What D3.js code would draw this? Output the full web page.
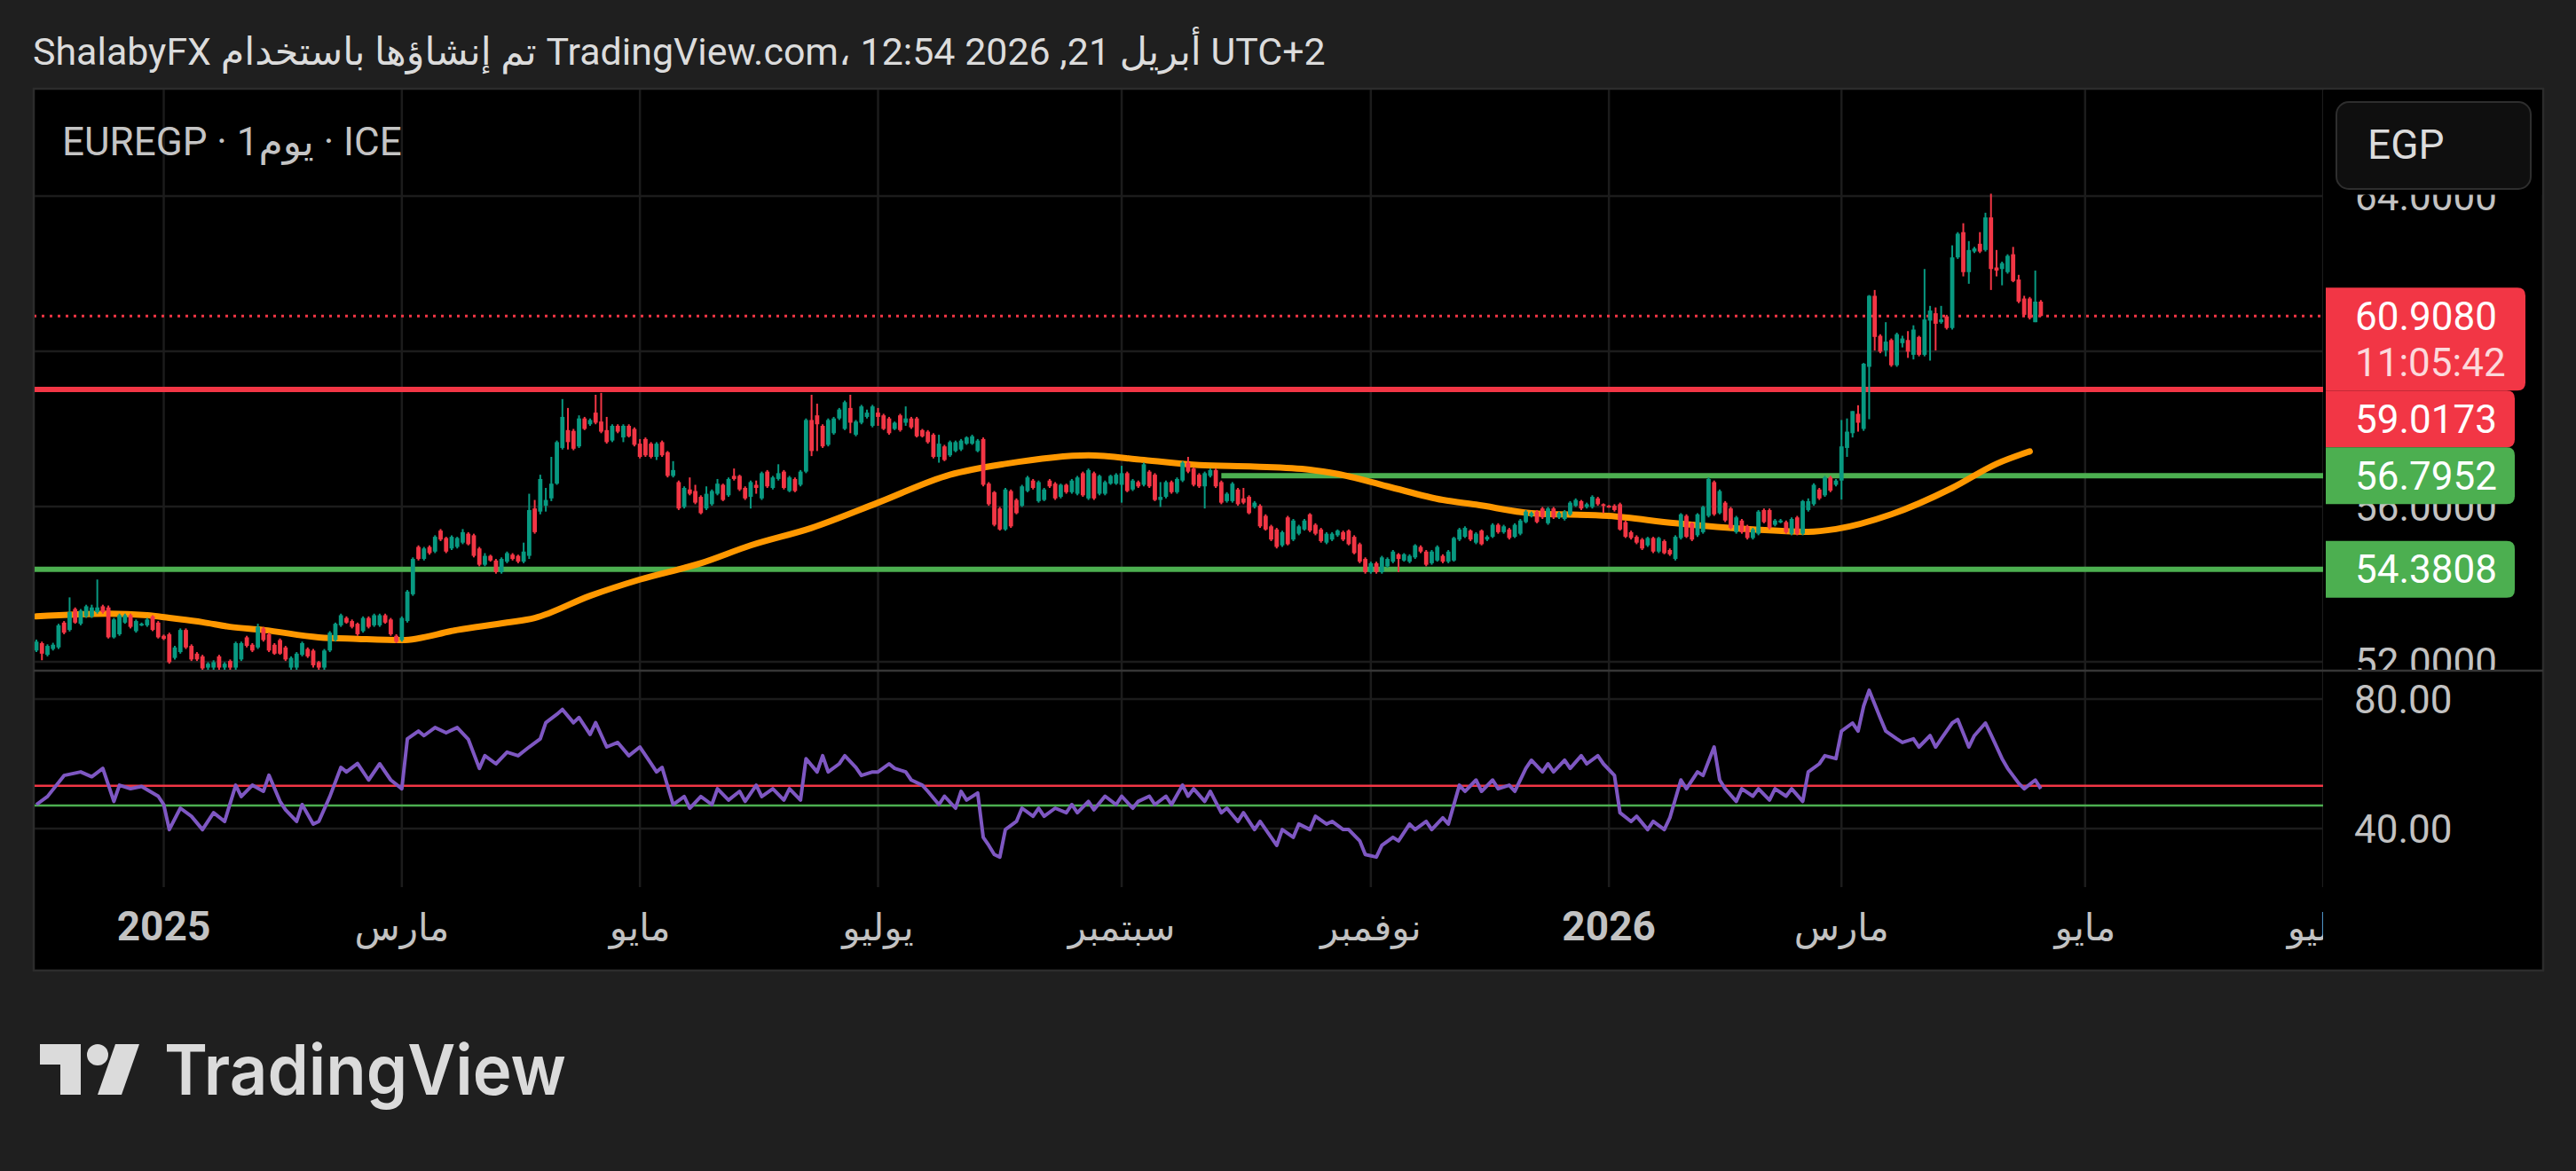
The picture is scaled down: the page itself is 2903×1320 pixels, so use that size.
<!DOCTYPE html>
<html><head><meta charset="utf-8">
<script src="https://cdn.jsdelivr.net/npm/d3@7"></script>
<style>html,body{margin:0;padding:0;background:#1f1f1f;overflow:hidden}svg{display:block}</style>
</head><body>
<svg id="c" width="2903" height="1320"></svg>
<script>
// ---------------- DATA ----------------
const open=[
52.29,52.48,52.18,52.33,52.37,53.01,52.82,53.36,52.98,53.17,
53.17,53.28,53.43,53.40,52.63,52.71,53.01,53.20,52.79,52.94,
52.94,53.17,53.01,52.67,52.71,52.10,52.25,52.82,52.41,52.21,
52.14,51.85,51.85,52.14,51.85,52.02,51.85,52.06,52.63,52.44,
52.37,52.86,52.71,52.44,52.56,52.37,51.85,51.85,52.18,52.33,
52.29,51.99,51.85,52.29,52.56,52.94,53.13,53.05,52.98,52.79,
53.13,52.94,52.94,53.20,53.09,52.67,52.56,53.05,53.74,54.96,
54.65,54.96,54.84,55.38,55.19,54.92,54.96,55.07,55.30,55.26,
54.92,54.50,54.73,54.61,54.31,54.58,54.76,54.73,54.58,54.73,
55.95,55.87,56.02,56.21,56.59,57.51,57.97,57.95,57.55,58.27,
58.12,58.42,58.19,57.97,57.70,58.08,57.78,58.08,58.00,57.62,
57.74,57.62,57.28,57.66,57.40,56.79,56.63,55.99,56.44,56.40,
56.25,55.95,56.06,56.33,56.56,56.29,56.79,56.79,56.48,56.25,
56.56,56.21,56.90,56.48,56.71,56.90,56.40,56.71,56.56,56.90,
58.23,58.35,58.08,57.59,57.89,58.27,58.00,58.54,57.85,58.16,
58.31,58.08,58.42,58.35,58.27,58.00,58.35,58.16,58.27,58.27,
57.97,57.93,57.85,57.28,57.55,57.32,57.43,57.47,57.62,57.62,
57.43,57.74,56.59,56.37,55.95,55.41,56.40,56.17,56.02,56.40,
56.67,56.14,56.17,56.67,56.59,56.25,56.56,56.37,56.33,56.86,
56.21,56.86,56.33,56.33,56.59,56.59,56.56,56.86,56.44,56.63,
56.56,56.90,56.82,56.17,56.25,56.63,56.37,56.67,57.13,56.98,
56.82,56.52,56.79,56.94,56.63,56.14,56.14,56.44,56.21,56.25,
55.99,56.02,55.76,55.49,55.41,55.00,55.72,55.15,55.30,55.41,
55.80,55.53,55.41,55.07,55.15,55.26,55.34,55.38,55.22,55.03,
54.65,54.31,54.54,54.31,54.46,54.58,54.77,54.61,54.58,54.69,
54.96,54.84,54.54,54.61,54.73,54.58,54.61,55.15,55.22,55.38,
55.07,55.38,55.15,55.22,55.53,55.34,55.41,55.22,55.30,55.60,
55.76,55.87,55.95,55.57,55.95,55.72,55.68,55.80,56.02,56.14,
55.99,55.99,56.21,56.06,56.02,56.02,56.06,55.60,55.34,55.22,
55.15,55.00,55.19,54.84,55.11,54.88,54.65,55.19,55.76,55.57,
55.26,55.34,55.76,56.63,55.83,56.10,55.95,55.34,55.64,55.49,
55.19,55.30,55.91,55.91,55.53,55.60,55.60,55.30,55.72,55.30,
55.91,56.06,56.44,56.29,56.75,56.56,56.67,57.51,57.89,58.39,
58.00,59.60,61.43,60.40,60.02,60.29,59.64,60.21,60.29,59.91,
60.37,59.91,60.79,60.98,60.75,60.90,60.60,62.42,63.07,62.04,
62.57,62.77,62.61,63.45,62.16,62.12,62.04,62.50,61.85,61.36,
61.36,60.75,61.28];
const high=[
52.57,52.52,52.45,52.49,52.98,53.05,53.66,53.40,53.36,53.47,
53.47,54.12,53.47,53.45,53.13,53.24,53.24,53.24,53.09,53.01,
53.13,53.20,53.05,52.70,52.75,52.41,52.86,52.86,52.45,52.25,
52.18,51.99,52.04,52.18,51.99,52.06,52.52,52.52,52.67,52.48,
52.98,52.90,52.75,52.48,52.60,52.41,52.14,52.25,52.52,52.37,
52.33,52.02,52.33,52.79,53.01,53.24,53.17,53.09,53.01,53.17,
53.17,53.24,53.24,53.24,53.13,52.71,53.17,53.85,54.69,55.00,
54.96,55.00,55.26,55.42,55.22,55.26,55.22,55.42,55.34,55.30,
54.96,54.80,54.76,54.65,54.69,54.84,54.80,54.76,55.07,56.33,
56.17,56.82,56.48,57.28,57.70,58.77,58.54,58.00,58.35,58.31,
58.27,58.88,58.93,58.31,58.12,58.12,58.12,58.12,58.04,57.74,
57.78,57.66,57.66,57.70,57.43,57.17,56.67,56.52,56.75,56.56,
56.29,56.52,56.44,56.71,56.59,56.75,56.98,56.82,56.52,56.67,
56.67,56.90,56.94,56.79,57.09,56.94,56.79,56.75,56.94,58.27,
58.88,58.65,58.12,58.27,58.31,58.54,58.73,58.88,58.23,58.62,
58.50,58.62,58.54,58.39,58.31,58.19,58.39,58.58,58.31,58.31,
58.00,57.97,57.89,57.85,57.59,57.70,57.70,57.74,57.81,57.85,
57.74,57.78,56.63,56.40,55.99,56.48,56.44,56.21,56.56,56.79,
56.71,56.67,56.48,56.71,56.63,56.59,56.59,56.71,56.79,56.90,
56.98,56.90,56.82,56.67,56.82,56.86,57.05,56.90,56.71,56.67,
57.13,56.94,56.86,56.63,56.67,56.67,56.75,57.17,57.28,57.01,
56.86,56.90,56.98,56.98,56.67,56.37,56.63,56.48,56.48,56.29,
56.14,56.06,55.80,55.53,55.45,55.38,55.76,55.68,55.53,55.68,
55.83,55.57,55.45,55.34,55.34,55.41,55.38,55.41,55.26,55.07,
54.69,54.58,54.58,54.73,54.69,54.88,54.80,54.80,54.77,55.03,
55.00,54.88,54.88,55.00,54.77,54.88,55.22,55.45,55.49,55.41,
55.34,55.41,55.26,55.57,55.57,55.53,55.45,55.57,55.68,55.91,
55.87,55.91,55.99,55.99,55.99,55.87,55.91,56.14,56.21,56.17,
56.10,56.29,56.25,56.08,56.04,56.06,56.10,55.64,55.38,55.26,
55.19,55.22,55.22,55.22,55.15,54.92,55.26,55.83,55.80,55.60,
55.83,56.02,56.75,56.67,56.44,56.14,55.99,55.76,55.68,55.53,
55.45,55.91,55.95,55.95,55.68,55.68,55.64,55.72,55.76,56.17,
56.21,56.60,56.48,56.79,56.79,56.71,58.23,58.27,58.46,58.61,
59.70,61.45,61.58,60.44,60.75,60.33,60.48,60.40,60.52,60.67,
60.40,62.12,61.17,61.13,61.17,60.94,62.73,63.07,63.30,62.84,
62.69,63.07,63.57,64.06,62.61,62.31,62.50,62.69,61.97,61.43,
61.40,62.08,61.32];
const low=[
52.25,52.04,52.14,52.29,52.33,52.71,52.78,52.98,52.94,53.13,
53.13,53.24,53.24,52.60,52.60,52.67,52.98,52.86,52.75,52.92,
52.90,52.79,52.60,52.56,51.95,52.06,52.21,52.33,52.02,52.02,
51.75,51.78,51.78,51.78,51.78,51.78,51.78,52.02,52.37,52.25,
52.33,52.52,52.25,52.18,52.18,52.02,51.78,51.78,52.14,52.10,
51.85,51.78,51.78,52.25,52.52,52.90,52.98,52.86,52.67,52.75,
52.86,52.90,52.90,52.98,52.67,52.48,52.52,53.01,53.70,54.61,
54.61,54.76,54.80,55.11,54.80,54.88,54.92,55.03,55.00,54.69,
54.46,54.46,54.58,54.27,54.27,54.54,54.61,54.54,54.54,54.65,
55.30,55.80,55.87,56.14,56.56,57.47,57.47,57.45,57.51,57.97,
58.08,58.12,57.89,57.62,57.66,57.89,57.66,57.78,57.55,57.24,
57.28,57.24,57.20,57.28,56.75,56.75,55.91,55.95,56.29,56.06,
55.80,55.91,56.02,56.29,56.14,56.25,56.67,56.40,56.17,55.95,
56.33,56.17,56.48,56.44,56.67,56.44,56.37,56.37,56.52,56.86,
57.30,57.43,57.51,57.55,57.85,58.23,57.97,57.89,57.81,58.12,
58.27,58.04,58.08,57.97,57.85,57.97,57.93,58.08,58.00,57.78,
57.78,57.62,57.24,57.13,57.17,57.28,57.40,57.43,57.59,57.59,
57.40,56.52,56.02,55.49,55.38,55.38,55.45,55.80,55.99,56.37,
56.44,56.10,56.14,56.48,56.17,56.21,56.33,56.33,56.29,56.25,
56.17,56.17,56.29,56.29,56.56,56.56,56.10,56.37,56.40,56.48,
56.52,56.48,56.14,55.99,56.21,56.33,56.33,56.63,56.86,56.52,
56.48,55.95,56.75,56.48,56.06,56.10,56.10,56.02,56.06,55.80,
55.95,55.45,55.38,55.11,54.92,54.96,55.00,55.11,55.26,55.38,
55.34,55.26,55.07,55.03,55.11,55.22,55.11,55.00,54.77,54.54,
54.27,54.27,54.27,54.27,54.42,54.54,54.31,54.58,54.54,54.65,
54.80,54.46,54.50,54.58,54.54,54.54,54.58,55.11,55.19,55.11,
55.03,55.00,55.11,55.19,55.30,55.30,55.15,55.19,55.26,55.57,
55.72,55.57,55.68,55.53,55.68,55.68,55.64,55.76,55.99,55.91,
55.95,55.95,56.02,55.83,55.97,55.87,55.38,55.19,55.15,55.03,
54.88,54.96,54.80,54.80,54.77,54.73,54.61,55.15,55.19,55.11,
55.22,55.30,55.72,55.76,55.80,55.60,55.41,55.30,55.30,55.15,
55.15,55.26,55.57,55.41,55.49,55.57,55.30,55.26,55.26,55.26,
55.87,56.02,56.17,56.25,56.37,56.52,56.18,57.28,57.78,57.93,
57.95,58.25,60.02,59.95,59.87,59.60,59.60,60.10,59.83,59.79,
59.87,59.87,59.76,60.02,60.71,60.56,60.56,62.38,61.93,61.74,
62.53,62.53,62.57,61.58,61.93,61.70,62.00,61.78,61.24,60.90,
60.82,60.75,60.90];
const close=[
52.52,52.21,52.41,52.44,52.94,52.75,53.28,53.01,53.32,53.43,
53.40,53.40,53.28,52.63,53.09,53.20,53.20,52.90,53.05,52.98,
53.09,52.82,52.63,52.59,51.99,52.37,52.82,52.37,52.06,52.06,
51.83,51.95,51.99,51.85,51.95,51.85,52.48,52.48,52.41,52.29,
52.90,52.56,52.29,52.21,52.21,52.06,52.10,52.21,52.48,52.14,
51.91,51.85,52.29,52.75,52.98,53.20,53.01,52.90,52.71,53.13,
52.90,53.20,53.20,53.01,52.71,52.52,53.13,53.81,54.65,54.65,
54.92,54.80,55.22,55.15,54.84,55.22,55.19,55.34,55.03,54.73,
54.50,54.73,54.61,54.31,54.65,54.80,54.65,54.58,54.84,55.91,
55.34,56.71,56.17,56.59,57.66,58.31,57.66,57.49,58.27,58.00,
58.23,58.16,57.93,57.66,58.08,57.93,58.08,57.81,57.59,57.28,
57.32,57.28,57.62,57.32,56.79,56.94,55.95,56.48,56.33,56.10,
55.83,56.33,56.40,56.59,56.17,56.71,56.71,56.44,56.21,56.63,
56.48,56.86,56.52,56.75,56.86,56.48,56.75,56.40,56.90,58.23,
57.43,58.12,57.55,58.23,58.27,58.50,58.69,58.16,58.19,58.58,
58.42,58.58,58.31,58.00,57.89,58.16,57.97,58.27,58.04,57.81,
57.81,57.66,57.28,57.62,57.20,57.66,57.66,57.70,57.78,57.81,
57.70,56.56,56.06,55.53,55.41,56.44,55.49,55.83,56.52,56.75,
56.48,56.63,56.44,56.52,56.21,56.56,56.37,56.67,56.75,56.29,
56.94,56.21,56.79,56.63,56.79,56.82,56.86,56.40,56.67,56.52,
57.09,56.52,56.17,56.25,56.63,56.37,56.71,57.13,56.90,56.56,
56.52,56.86,56.94,56.52,56.10,56.33,56.59,56.06,56.10,55.83,
56.10,55.49,55.41,55.15,54.96,55.34,55.03,55.64,55.49,55.64,
55.38,55.30,55.11,55.30,55.30,55.38,55.15,55.03,54.80,54.58,
54.31,54.54,54.31,54.69,54.65,54.84,54.65,54.77,54.73,55.00,
54.84,54.50,54.84,54.96,54.58,54.84,55.19,55.41,55.45,55.15,
55.30,55.03,55.22,55.53,55.34,55.49,55.19,55.53,55.64,55.87,
55.83,55.60,55.72,55.95,55.72,55.83,55.87,56.10,56.17,55.95,
56.06,56.25,56.06,56.02,55.99,55.91,55.41,55.22,55.19,55.07,
54.92,55.19,54.84,55.19,54.80,54.77,55.22,55.80,55.22,55.15,
55.80,55.99,56.71,55.80,56.40,55.64,55.45,55.72,55.34,55.19,
55.41,55.87,55.60,55.45,55.64,55.64,55.34,55.68,55.30,56.14,
56.14,56.56,56.21,56.75,56.41,56.67,57.55,57.93,58.46,58.16,
59.68,61.43,60.37,59.99,60.25,59.64,60.44,60.33,59.99,60.56,
59.91,60.82,61.05,60.71,60.82,60.60,62.42,63.03,62.04,62.61,
62.65,62.57,63.45,62.12,62.08,62.27,62.46,61.81,61.28,60.94,
60.86,61.28,60.91];

// moving average (orange), sampled at bar positions
const maBar=[0,13,20,24,30,35,41,51,58,66,76,85,90,100,109,120,129,140,152,165,175,190,200,210,220,230,235,244,254,260,270,284,296,310,320,325,335,346,354,360];
const maVal=[53.17,53.24,53.20,53.13,53.02,52.90,52.82,52.63,52.59,52.56,52.82,53.01,53.13,53.70,54.12,54.54,55.00,55.45,56.10,56.82,57.10,57.32,57.20,57.07,57.03,56.95,56.84,56.52,56.17,56.05,55.83,55.76,55.57,55.41,55.35,55.42,55.80,56.48,57.10,57.42];

// RSI (purple), sampled at bar positions
const rsiBar=[0,2,5,8,10,12,14,15,17,19,
22,23,24,26,28,30,32,34,36,37,
39,41,42,44,45,47,48,50,51,53,
55,56,58,60,62,64,66,67,69,70,
72,74,76,78,80,81,83,85,87,89,
91,92,94,95,97,98,100,101,103,105,
107,109,111,112,113,115,117,118,120,122,
123,125,127,128,130,131,133,135,136,138,
139,141,142,143,145,146,148,149,151,152,
154,155,157,158,160,161,163,164,166,167,
168,170,171,172,173,174,175,177,178,180,
181,182,184,186,187,188,190,191,193,195,
196,198,199,201,202,204,205,207,208,209,
211,212,214,215,217,218,220,221,223,224,
225,227,228,230,231,233,234,236,237,239,
240,242,243,245,246,248,249,251,252,254,
255,257,258,260,261,263,264,266,267,269,
270,272,273,274,276,277,279,280,282,283,
285,286,288,289,291,292,294,295,297,298,
300,301,303,304,305,307,308,310,311,313,
314,316,317,319,320,322,323,325,326,328,
329,330,331,333,334,336,337,339,340,342,
343,344,346,347,349,350,352,353,355,356,
358,359,361,362];
const rsiVal=[47.4,49.9,56.4,57.5,56.0,58.6,48.4,53.4,52.3,53.0,
50.0,47.4,39.7,46.3,43.8,39.7,44.9,42.2,53.4,49.9,
53.4,51.5,56.5,48.4,45.8,42.2,47.4,41.4,42.2,49.9,
58.9,57.5,60.1,55.0,60.0,55.0,52.3,67.7,70.1,68.7,
71.2,69.6,71.2,67.6,58.6,62.5,60.0,63.6,62.5,65.2,
67.7,72.7,75.3,76.8,72.7,74.3,69.1,72.7,65.2,66.6,
62.5,65.2,60.1,57.5,58.9,47.4,49.9,46.3,49.9,47.4,
52.3,48.8,51.5,48.4,53.4,49.9,52.3,48.8,52.3,48.8,
61.6,57.5,62.5,57.5,60.0,62.5,58.9,56.4,57.5,57.5,
60.0,58.6,57.5,55.0,53.4,51.5,47.4,50.0,46.3,51.5,
48.8,51.0,37.3,34.8,32.0,31.2,39.7,42.2,46.3,43.8,
46.3,43.8,46.3,44.9,47.4,44.9,48.4,45.8,50.0,47.4,
50.0,46.3,48.4,50.0,47.4,50.0,47.4,53.4,50.0,52.3,
48.4,51.5,44.9,46.3,42.2,44.9,39.7,42.2,37.3,34.8,
39.7,37.3,41.4,39.7,43.8,41.4,42.2,39.7,39.7,36.2,
32.0,31.2,34.8,37.3,36.2,41.4,39.7,42.2,39.7,43.3,
41.4,53.4,51.5,55.0,51.5,55.0,52.3,53.4,51.5,58.6,
61.1,57.5,60.0,57.5,61.1,58.6,62.5,60.0,62.5,60.0,
56.4,44.9,42.2,43.8,39.7,42.2,39.7,43.3,55.0,52.3,
57.5,56.4,65.2,55.0,52.3,48.4,52.3,50.0,52.3,48.8,
52.3,50.0,52.3,48.4,57.5,60.0,62.5,61.6,70.1,72.6,
70.1,77.8,82.7,74.2,70.1,67.7,66.6,67.7,65.2,68.7,
65.2,67.7,72.6,73.7,65.2,68.7,72.6,69.0,61.6,58.6,
54.0,52.3,55.0,52.3];

// time axis ticks (bar index of first bar of the month)
const tickBar=[23,66,109,152,196,241,284,326,370,413];
const tickLabel=['2025','مارس','مايو','يوليو','سبتمبر','نوفمبر','2026','مارس','مايو','يوليو'];
const tickYear=[true,false,false,false,false,false,true,false,false,false];

const priceTicks=[52,56,60,64];
const priceTickLabels=['52.0000','56.0000','60.0000','64.0000'];
const rsiTicks=[40,80];
const rsiTickLabels=['40.00','80.00'];

const levelVal=[59.0173,56.7952,54.3808];
const levelLabel=['59.0173','56.7952','54.3808'];
const levelKind=['res','sup','sup'];
const levelStartBar=[null,214,null];
const rsiLevelVal=[53.2,47.1];
const lastPrice=60.9080, lastPriceLabel='60.9080', countdown='11:05:42';

// ---------------- DRAWING ----------------
const W=2903,H=1320;
const UP='#089981', DN='#F23645', RED='#F23645', GREEN='#4CAF50', ORANGE='#FF9800', PURPLE='#7E57C2';
const FONT="Roboto, 'DejaVu Sans', sans-serif";
const svg=d3.select('#c');
const PL=38, PR=2618, PT=100, PB=755, RT=757, RB=1000, BR=2866, BB=1094;

const x=d3.scaleLinear().domain([0,362]).range([41,41+362*6.24]);
const y=d3.scaleLinear().domain([52,64]).range([746,221]);
const yr=d3.scaleLinear().domain([40,80]).range([934,788]);

svg.append('rect').attr('width',W).attr('height',H).attr('fill','#1f1f1f');
svg.append('rect').attr('x',PL).attr('y',PT).attr('width',BR-PL).attr('height',BB-PT)
  .attr('fill','#000').attr('stroke','#2c2c2c').attr('stroke-width',2.5);

const defs=svg.append('defs');
function clip(id,x0,y0,x1,y1){defs.append('clipPath').attr('id',id).append('rect').attr('x',x0).attr('y',y0).attr('width',x1-x0).attr('height',y1-y0);}
clip('pp',PL+1,PT+1,PR,PB);
clip('rp',PL+1,RT,PR,RB);
clip('gp',PL+1,PT+1,PR,RB);
clip('ax',PL+1,RB,PR,BB-1);
clip('ps',PR,PT+1,BR-1,PB);

// grid
const grid=svg.append('g').attr('clip-path','url(#gp)');
grid.selectAll('line.v').data(tickBar).join('line').attr('x1',d=>x(d)).attr('x2',d=>x(d))
  .attr('y1',PT).attr('y2',RB).attr('stroke','#1c1c1c').attr('stroke-width',2.5);
grid.selectAll('line.hp').data(priceTicks).join('line').attr('x1',PL).attr('x2',PR)
  .attr('y1',d=>y(d)).attr('y2',d=>y(d)).attr('stroke','#1c1c1c').attr('stroke-width',2.5);
grid.selectAll('line.hr').data(rsiTicks).join('line').attr('x1',PL).attr('x2',PR)
  .attr('y1',d=>yr(d)).attr('y2',d=>yr(d)).attr('stroke','#1c1c1c').attr('stroke-width',2.5);

// pane separator
svg.append('line').attr('x1',PL).attr('x2',BR).attr('y1',756).attr('y2',756).attr('stroke','#363636').attr('stroke-width',2.5);

// price pane
const gp=svg.append('g').attr('clip-path','url(#pp)');
levelVal.forEach((v,k)=>{
  gp.append('line').attr('x1',levelStartBar[k]==null?PL:x(levelStartBar[k])).attr('x2',PR)
    .attr('y1',y(v)).attr('y2',y(v)).attr('stroke',levelKind[k]==='res'?RED:GREEN).attr('stroke-width',6);
});
gp.append('line').attr('x1',PL).attr('x2',PR).attr('y1',y(lastPrice)).attr('y2',y(lastPrice))
  .attr('stroke',RED).attr('stroke-width',3).attr('stroke-dasharray','3 6');

const maPts=maBar.map((b,k)=>[x(b),y(maVal[k])]);
gp.append('path').attr('d',d3.line().curve(d3.curveMonotoneX)(maPts)).attr('fill','none')
  .attr('stroke',ORANGE).attr('stroke-width',7).attr('stroke-linecap','round').attr('stroke-linejoin','round');

const bars=d3.range(close.length).map(i=>({i,o:open[i],h:high[i],l:low[i],c:close[i]}));
gp.selectAll('line.wick').data(bars).join('line').attr('x1',d=>x(d.i)).attr('x2',d=>x(d.i))
  .attr('y1',d=>y(d.h)).attr('y2',d=>y(d.l)).attr('stroke',d=>d.c>=d.o?UP:DN).attr('stroke-width',2);
gp.selectAll('rect.body').data(bars).join('rect').attr('x',d=>x(d.i)-2.4).attr('width',4.8)
  .attr('y',d=>y(Math.max(d.o,d.c))).attr('height',d=>Math.max(2,Math.abs(y(d.o)-y(d.c))))
  .attr('fill',d=>d.c>=d.o?UP:DN);

// RSI pane
const gr=svg.append('g').attr('clip-path','url(#rp)');
rsiLevelVal.forEach((v,k)=>{
  gr.append('line').attr('x1',PL).attr('x2',PR).attr('y1',yr(v)).attr('y2',yr(v))
    .attr('stroke',k===0?RED:GREEN).attr('stroke-width',2.5);
});
gr.append('path').attr('d',d3.line()(rsiBar.map((b,k)=>[x(b),yr(rsiVal[k])]))).attr('fill','none')
  .attr('stroke',PURPLE).attr('stroke-width',4).attr('stroke-linejoin','round');

// label boxes layout (computed first, so fully covered scale labels can be skipped)
function rrRight(x0,y0,x1,y1,r){return `M${x0},${y0}H${x1-r}Q${x1},${y0} ${x1},${y0+r}V${y1-r}Q${x1},${y1} ${x1-r},${y1}H${x0}Z`;}
const boxes=[];
boxes.push({center:y(lastPrice),h:116,w:225,color:RED,lines:[lastPriceLabel,countdown]});
levelVal.forEach((v,k)=>boxes.push({center:y(v),h:64,w:213,color:levelKind[k]==='res'?RED:GREEN,lines:[levelLabel[k]]}));
boxes.sort((a,b)=>a.center-b.center);
let prevBottom=-1e9;
boxes.forEach(b=>{let top=b.center-32; if(top<prevBottom) top=prevBottom; b.top=top; b.bottom=top+b.h; prevBottom=b.bottom;});
const covered=v=>boxes.some(b=>y(v)-16>=b.top && y(v)+16<=b.bottom);

// price scale labels
const gs=svg.append('g').attr('clip-path','url(#ps)');
priceTicks.forEach((v,k)=>{
  if(covered(v)) return;
  gs.append('text').attr('x',2654).attr('y',y(v)+15.6).attr('font-family',FONT).attr('font-size',44)
    .attr('fill','#c2c2c2').text(priceTickLabels[k]);
});
rsiTicks.forEach((v,k)=>{
  svg.append('text').attr('x',2653).attr('y',yr(v)+15.6).attr('font-family',FONT).attr('font-size',44)
    .attr('fill','#c2c2c2').text(rsiTickLabels[k]);
});

boxes.forEach(b=>{
  svg.append('path').attr('d',rrRight(2621,b.top,2621+b.w,b.bottom,9)).attr('fill',b.color);
  b.lines.forEach((t,j)=>{
    svg.append('text').attr('x',2654).attr('y',b.top+32+15.6+j*52).attr('font-family',FONT).attr('font-size',44)
      .attr('fill',j===0?'#ffffff':'rgba(255,255,255,0.82)').text(t);
  });
});

// currency button with its black backdrop (hides the top of the label under it)
svg.append('rect').attr('x',PR+1).attr('y',PT+1.5).attr('width',BR-PR-2.5).attr('height',118).attr('fill','#000');
svg.append('rect').attr('x',2633).attr('y',115).attr('width',219).attr('height',98).attr('rx',14)
  .attr('fill','#0f0f0f').attr('stroke','#2e2e2e').attr('stroke-width',2);
svg.append('text').attr('x',2668).attr('y',179).attr('font-family',FONT).attr('font-size',46).attr('fill','#dcdcdc').text('EGP');

// time axis
const ga=svg.append('g').attr('clip-path','url(#ax)');
tickBar.forEach((b,k)=>{
  ga.append('text').attr('x',x(b)).attr('y',1060).attr('text-anchor','middle')
    .attr('font-family',FONT).attr('font-size',tickYear[k]?46:42).attr('font-weight',tickYear[k]?700:400)
    .attr('fill','#c2c2c2').text(tickLabel[k]);
});

// rows of text placed piece by piece (keeps visual order of mixed scripts)
function row(pieces,x0,base,size,fill,gap){
  let cx=x0; const g=svg.append('g');
  pieces.forEach(p=>{
    const t=g.append('text').attr('x',cx).attr('y',base).attr('font-family',FONT).attr('font-size',size)
      .attr('fill',fill).attr('direction','ltr').text(p.t);
    cx+=t.node().getComputedTextLength()+(p.g==null?gap:p.g);
  });
  return {g,w:cx-x0};
}
const titlePieces=[{t:'ShalabyFX'},{t:'تم إنشاؤها باستخدام'},{t:'TradingView.com،'},{t:'12:54'},{t:'2026'},{t:',21'},{t:'أبريل'},{t:'UTC+2'}];
let tr=row(titlePieces,37,73,44,'#dcdcdc',11);
const target=1468;
if(Math.abs(tr.w-target)>20){const s=Math.max(0.85,Math.min(1.12,target/tr.w)); tr.g.remove(); row(titlePieces,37,73,44*s,'#dcdcdc',11*s);}

row([{t:'EUREGP · 1',g:0},{t:'يوم'},{t:'· ICE'}],70,175,44,'#c4c4c4',11);

// logo
const lg=svg.append('g').attr('fill','#dbdbdb');
lg.append('path').attr('d','M45,1177H91V1234H68V1200H45Z');
lg.append('circle').attr('cx',110).attr('cy',1189).attr('r',12);
lg.append('path').attr('d','M130,1177H157L137,1234H110Z');
lg.append('text').attr('x',185).attr('y',1234).attr('font-family',"Inter, Lato, sans-serif").attr('font-weight',600)
  .attr('font-size',78).attr('textLength',453).attr('lengthAdjust','spacingAndGlyphs').text('TradingView');
</script>
</body></html>
